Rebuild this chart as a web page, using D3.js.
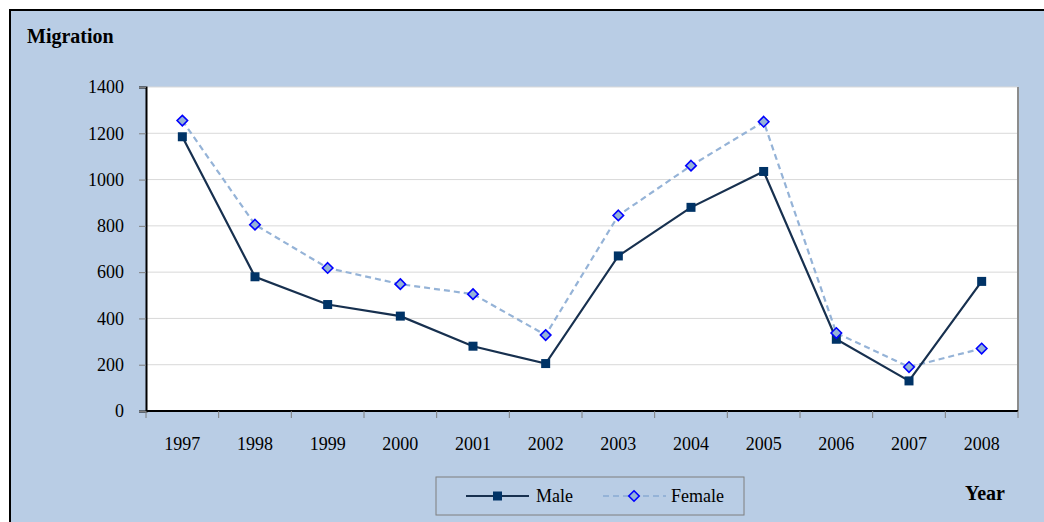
<!DOCTYPE html>
<html>
<head>
<meta charset="utf-8">
<script src="https://cdn.jsdelivr.net/npm/d3@7"></script>
<style>
  body { margin: 0; background: #fff; }
  text { font-family: "Liberation Serif", "Times New Roman", serif; }
</style>
</head>
<body>
<div id="chart"></div>
<script>
// chart data
var years = ["1997", "1998", "1999", "2000", "2001", "2002", "2003", "2004", "2005", "2006", "2007", "2008"];
var male = [1185, 580, 460, 410, 280, 205, 670, 880, 1035, 310, 130, 560];
var female = [1255, 805, 618, 548, 505, 328, 845, 1060, 1250, 337, 190, 270];
var yTicks = [0, 200, 400, 600, 800, 1000, 1200, 1400];

var svgWidth = 1044;
var svgHeight = 522;

var margin = {top: 87, right: 26, bottom: 111, left: 146};
var width = svgWidth - margin.left - margin.right;
var height = svgHeight - margin.top - margin.bottom;

var svg = d3.select("#chart")
  .append("svg")
  .attr("width", svgWidth)
  .attr("height", svgHeight);

// background + outer border
svg.append("rect")
  .attr("x", 0).attr("y", 0)
  .attr("width", svgWidth).attr("height", svgHeight)
  .attr("fill", "#fff");
svg.append("rect")
  .attr("x", 10).attr("y", 10)
  .attr("width", svgWidth).attr("height", svgHeight)
  .attr("fill", "#b9cde5")
  .attr("stroke", "#000")
  .attr("stroke-width", 2);

var chartGroup = svg.append("g")
  .attr("transform", `translate(${margin.left}, ${margin.top})`);

chartGroup.append("rect")
  .attr("width", width)
  .attr("height", height)
  .attr("fill", "#fff");

var xBand = d3.scaleBand().domain(years).range([0, width]);
var yLinearScale = d3.scaleLinear().domain([0, 1400]).range([height, 0]);

// gridlines
chartGroup.append("g")
  .selectAll("line")
  .data(yTicks.filter(d => d > 0))
  .enter()
  .append("line")
  .attr("x1", 0).attr("x2", width)
  .attr("y1", d => yLinearScale(d)).attr("y2", d => yLinearScale(d))
  .attr("stroke", "#d9d9d9")
  .attr("stroke-width", 1);

// right shadow edge of plot
chartGroup.append("line")
  .attr("x1", width).attr("x2", width)
  .attr("y1", 0).attr("y2", height)
  .attr("stroke", "#8c8c8c")
  .attr("stroke-width", 2);

// y axis
var leftAxis = d3.axisLeft(yLinearScale)
  .tickValues(yTicks)
  .tickFormat(d3.format("d"))
  .tickSize(7)
  .tickPadding(15);
var yAxisG = chartGroup.append("g").call(leftAxis);
yAxisG.attr("font-family", null);
yAxisG.select(".domain").attr("stroke", "#000").attr("stroke-width", 2);
yAxisG.selectAll(".tick line").attr("stroke", "#7f7f7f");
yAxisG.selectAll(".tick text")
  .attr("font-size", 18)
  .attr("fill", "#000");

// x axis: ticks between categories
var xAxisG = chartGroup.append("g").attr("transform", `translate(0, ${height})`);
xAxisG.append("line")
  .attr("x1", 0).attr("x2", width)
  .attr("stroke", "#000").attr("stroke-width", 2);
var bounds = d3.range(years.length + 1).map(i => i * xBand.bandwidth());
xAxisG.selectAll(".xtick")
  .data(bounds)
  .enter()
  .append("line")
  .attr("x1", d => d).attr("x2", d => d)
  .attr("y1", 0).attr("y2", 7)
  .attr("stroke", "#7f7f7f");
xAxisG.selectAll(".xlabel")
  .data(years)
  .enter()
  .append("text")
  .attr("x", d => xBand(d) + xBand.bandwidth() / 2)
  .attr("y", 39)
  .attr("text-anchor", "middle")
  .attr("font-size", 18)
  .text(d => d);

var cx = (d, i) => xBand(years[i]) + xBand.bandwidth() / 2;

// lines
var line = d3.line().x((d, i) => cx(d, i)).y(d => yLinearScale(d));

chartGroup.append("path")
  .datum(female)
  .attr("d", line)
  .attr("fill", "none")
  .attr("stroke", "#95b3d7")
  .attr("stroke-width", 2.2)
  .attr("stroke-dasharray", "6,4");

chartGroup.append("path")
  .datum(male)
  .attr("d", line)
  .attr("fill", "none")
  .attr("stroke", "#17304f")
  .attr("stroke-width", 2.2);

// markers
chartGroup.selectAll(".maleMark")
  .data(male)
  .enter()
  .append("rect")
  .attr("x", (d, i) => cx(d, i) - 4.5)
  .attr("y", d => yLinearScale(d) - 4.5)
  .attr("width", 9).attr("height", 9)
  .attr("fill", "#003366");

var diamond = d3.symbol().type(d3.symbolDiamond2).size(70);
chartGroup.selectAll(".femaleMark")
  .data(female)
  .enter()
  .append("path")
  .attr("d", diamond)
  .attr("transform", (d, i) => `translate(${cx(d, i)}, ${yLinearScale(d)})`)
  .attr("fill", "#95b3d7")
  .attr("stroke", "#0000ff")
  .attr("stroke-width", 1.6);

// titles
svg.append("text")
  .attr("x", 27).attr("y", 43)
  .attr("font-size", 20)
  .attr("font-weight", "bold")
  .text("Migration");

svg.append("text")
  .attr("x", 965).attr("y", 500)
  .attr("font-size", 20)
  .attr("font-weight", "bold")
  .text("Year");

// legend
var legend = svg.append("g").attr("transform", "translate(436, 477)");
legend.append("rect")
  .attr("width", 308).attr("height", 38)
  .attr("fill", "none")
  .attr("stroke", "#7f7f7f")
  .attr("stroke-width", 1);

legend.append("line")
  .attr("x1", 30).attr("x2", 93).attr("y1", 19).attr("y2", 19)
  .attr("stroke", "#17304f").attr("stroke-width", 2.2);
legend.append("rect")
  .attr("x", 57).attr("y", 14.5).attr("width", 9).attr("height", 9)
  .attr("fill", "#003366");
legend.append("text")
  .attr("x", 100).attr("y", 25)
  .attr("font-size", 18)
  .text("Male");

legend.append("line")
  .attr("x1", 167).attr("x2", 230).attr("y1", 19).attr("y2", 19)
  .attr("stroke", "#95b3d7").attr("stroke-width", 2.2)
  .attr("stroke-dasharray", "6,4");
legend.append("path")
  .attr("d", diamond)
  .attr("transform", "translate(198, 19)")
  .attr("fill", "#95b3d7")
  .attr("stroke", "#0000ff")
  .attr("stroke-width", 1.6);
legend.append("text")
  .attr("x", 235).attr("y", 25)
  .attr("font-size", 18)
  .text("Female");
</script>
</body>
</html>
